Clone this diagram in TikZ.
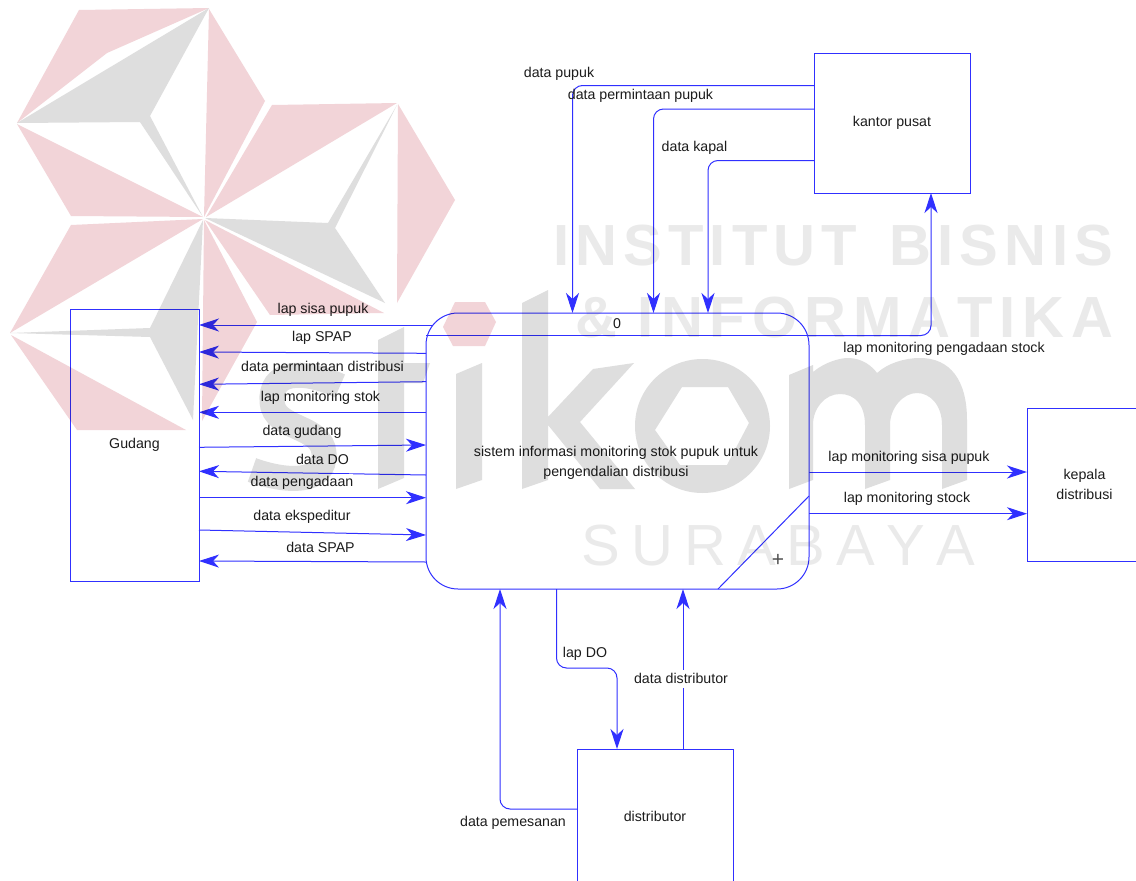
\documentclass[tikz,border=0pt]{standalone}
\usepackage{fontspec}
\setmainfont{Liberation Sans}
\usetikzlibrary{arrows.meta}
\definecolor{flow}{HTML}{3030FF}
\definecolor{ink}{HTML}{1C1C1C}
\definecolor{plusink}{HTML}{505050}
\definecolor{wmpink}{HTML}{F2D4D8}
\definecolor{wmgray}{HTML}{DEDEDE}
\definecolor{wmtext}{HTML}{EAEAEA}
\tikzset{
  base/.style={font=\fontsize{14.2}{20}\selectfont,text=ink},
  entity/.style={base,draw=flow,line width=1pt,inner sep=0pt,outer sep=0pt,align=center},
  procbox/.style={draw=flow,line width=1pt,rounded corners=32pt,inner sep=0pt,outer sep=0pt},
  lbl/.style={base,inner sep=0pt,align=center,yshift=-1pt},
  masklbl/.style={lbl,fill=white,minimum height=18pt},
  conn/.style={draw=flow,line width=1pt,-{Stealth[length=20pt,width=13pt,inset=6pt]}},
  elbow/.style={conn,rounded corners=10pt},
  plainline/.style={draw=flow,line width=1pt},
  wmbold/.style={inner sep=0pt,anchor=base west,text=wmtext,font=\fontsize{58}{60}\selectfont\bfseries},
  wmthin/.style={inner sep=0pt,anchor=base west,text=wmtext,font=\fontsize{58}{60}\selectfont},
}
\begin{document}
\begin{tikzpicture}[x=1pt,y=-1pt]
\useasboundingbox (0,0) rectangle (1136,881);
\fill[white] (0,0) rectangle (1136,881);

% entities and process
\node[entity,minimum width=129pt,minimum height=272pt] (gud) at (134.5,445) {\raisebox{-1pt}{Gudang}};
\node[entity,minimum width=156pt,minimum height=140pt] (kan) at (892,123) {\raisebox{-1pt}{kantor pusat}};
\node[entity,minimum width=115pt,minimum height=153pt] (kep) at (1084.5,484.5) {kepala\\distribusi};
\node[entity,minimum width=156pt,minimum height=136pt] (dis) at (655,817) {\raisebox{2pt}{distributor}};
\node[procbox,minimum width=383pt,minimum height=276pt] (proc) at (617.5,451) {};
\node[lbl] (pnum) at (617,323) {0};
\node[lbl] (pname) at (616,462) {sistem informasi monitoring stok pupuk untuk\\pengendalian distribusi};
\node[lbl,font=\fontsize{21}{21}\selectfont,text=plusink] (pplus) at (778,559) {+};
\draw[plainline] (proc.west |- 0,335) -- (proc.east |- 0,335);
\draw[plainline] (proc.east |- 0,496) -- (718,0 |- proc.south);

\coordinate (sisaend) at (433,325);

% Gudang flows
\draw[conn] (sisaend) -- (gud.east |- 0,325);
\draw[conn] (proc.west |- 0,353.3) -- (gud.east |- 0,352);
\draw[conn] (proc.west |- 0,381.7) -- (gud.east |- 0,384.3);
\draw[conn] (proc.west |- 0,412.3) -- (gud.east |- 0,412.3);
\draw[conn] (gud.east |- 0,447.3) -- (proc.west |- 0,445);
\draw[conn] (proc.west |- 0,475) -- (gud.east |- 0,471.3);
\draw[conn] (gud.east |- 0,497.7) -- (proc.west |- 0,497.7);
\draw[conn] (gud.east |- 0,530) -- (proc.west |- 0,535);
\draw[conn] (proc.west |- 0,562) -- (gud.east |- 0,561);

% kantor pusat flows
\draw[elbow] (kan.west |- 0,85.5) -| (572.5,0 |- proc.north);
\draw[elbow] (kan.west |- 0,109) -| (653.5,0 |- proc.north);
\draw[elbow] (kan.west |- 0,160.5) -| (708,0 |- proc.north);
\draw[elbow] (proc.east |- 0,335.5) -| (931,0 |- kan.south);

% kepala flows
\draw[conn] (proc.east |- 0,472) -- (kep.west |- 0,472);
\draw[conn] (proc.east |- 0,513.7) -- (kep.west |- 0,513.7);

% distributor flows
\draw[elbow] (dis.west |- 0,809) -| (500,0 |- proc.south);
\draw[elbow] (556.5,0 |- proc.south) -- (556.5,668) -| (617,0 |- dis.north);
\draw[conn] (683,0 |- dis.north) -- (683,0 |- proc.south);

% labels
\node[lbl] (l1) at (323,309) {lap sisa pupuk};
\node[lbl] (l2) at (322,337) {lap SPAP};
\node[lbl] (l3) at (322.5,366.5) {data permintaan distribusi};
\node[lbl] (l4) at (320.5,396.5) {lap monitoring stok};
\node[lbl] (l5) at (302,430.5) {data gudang};
\node[lbl] (l6) at (322.5,458.5) {data DO};
\node[masklbl] (l7) at (302,481.5) {data pengadaan};
\node[lbl] (l8) at (302,515.5) {data ekspeditur};
\node[lbl] (l9) at (320.5,546) {data SPAP};
\node[lbl] (l10) at (559,72.5) {data pupuk};
\node[lbl] (l11) at (640.5,95) {data permintaan pupuk};
\node[lbl] (l12) at (694.5,147) {data kapal};
\node[lbl] (l13) at (944,347.5) {lap monitoring pengadaan stock};
\node[lbl] (l14) at (909,456.5) {lap monitoring sisa pupuk};
\node[lbl] (l15) at (907,497.5) {lap monitoring stock};
\node[lbl] (l16) at (585,652.5) {lap DO};
\node[masklbl] (l17) at (681,677.5) {data distributor};
\node[lbl] (l18) at (513,821.5) {data pemesanan};

% watermark, multiplied over the diagram
\begin{scope}[blend mode=multiply]
\fill[wmpink] (79,10) -- (209,8) -- (107,53) -- (17,123) -- cycle;
\fill[wmpink] (209,9) -- (265,101) -- (204,217) -- cycle;
\fill[wmpink] (17,124) -- (203,217) -- (71,216) -- cycle;
\fill[wmpink] (272,105) -- (397,103) -- (206,217) -- cycle;
\fill[wmpink] (398,104) -- (455,200) -- (397,303) -- cycle;
\fill[wmpink] (205,220) -- (384,313) -- (270,315) -- cycle;
\fill[wmpink] (203,219) -- (71,225) -- (10,333) -- cycle;
\fill[wmpink] (204,220) -- (257,322) -- (202,421) -- cycle;
\fill[wmpink] (11,335) -- (186,430) -- (77,430) -- cycle;
\fill[wmpink] (455,302) -- (485,302) -- (496,322) -- (485,346) -- (453,346) -- (443,327) -- cycle;
\fill[wmgray] (17,123) -- (209,8) -- (150,116) -- (203,217) -- (140,122) -- cycle;
\fill[wmgray] (397,105) -- (328,223) -- (205,218) -- (385,303) -- (335,228) -- cycle;
\fill[wmgray] (203,220) -- (150,328) -- (10,333) -- (150,337) -- (193,420) -- cycle;
% s
\draw[wmgray,line width=25pt] (340,386) .. controls (300,368) and (270,372) .. (272,402) .. controls (274,430) and (322,425) .. (324,453) .. controls (326,485) and (285,482) .. (252,470);
% t
\fill[wmgray] (378,340) -- (404,327) -- (404,363) -- (430,363) -- (423,383) -- (404,383) -- (404,478) -- (378,489) -- cycle;
% i
\fill[wmgray] (456,374) -- (482,363) -- (482,480) -- (456,489) -- cycle;
% k
\fill[wmgray] (522,303) -- (548,290) -- (548,417) -- (593,369) -- (634,363) -- (580,422) -- (635,489) -- (600,489) -- (548,425) -- (548,480) -- (522,489) -- cycle;
% o
\fill[wmgray,even odd rule] (702.5,426) ellipse [x radius=67.5pt,y radius=67pt] (682,387) -- (728,387) -- (749,423) -- (727,465) -- (680,465) -- (655,430) -- cycle;
% m
\fill[wmgray] (789,375) -- (813,365) -- (813,372) .. controls (825,362) and (840,358) .. (848,358) .. controls (862,358) and (872,366) .. (877,373) .. controls (888,363) and (905,358) .. (920,358) .. controls (950,358) and (967,380) .. (967,420) -- (967,480) -- (942,489) -- (942,425) .. controls (942,405) and (930,393) .. (917,393) .. controls (903,393) and (890,408) .. (890,425) -- (890,480) -- (865,489) -- (865,425) .. controls (865,405) and (855,394) .. (840,394) .. controls (825,394) and (813,408) .. (813,425) -- (813,480) -- (789,489) -- cycle;
\node[wmbold] (wm1) at (553,265) {\makebox[560pt][s]{I\hfill N\hfill S\hfill T\hfill I\hfill T\hfill U\hfill T\hspace{26pt}\hfill B\hfill I\hfill S\hfill N\hfill I\hfill S}};
\node[wmbold] (wm2) at (575,337) {\makebox[538pt][s]{\&\hspace{14pt}\hfill I\hfill N\hfill F\hfill O\hfill R\hfill M\hfill A\hfill T\hfill I\hfill K\hfill A}};
\node[wmthin] (wm3) at (581,565) {\makebox[394pt][s]{S\hfill U\hfill R\hfill A\hfill B\hfill A\hfill Y\hfill A}};
\end{scope}
\end{tikzpicture}
\end{document}
